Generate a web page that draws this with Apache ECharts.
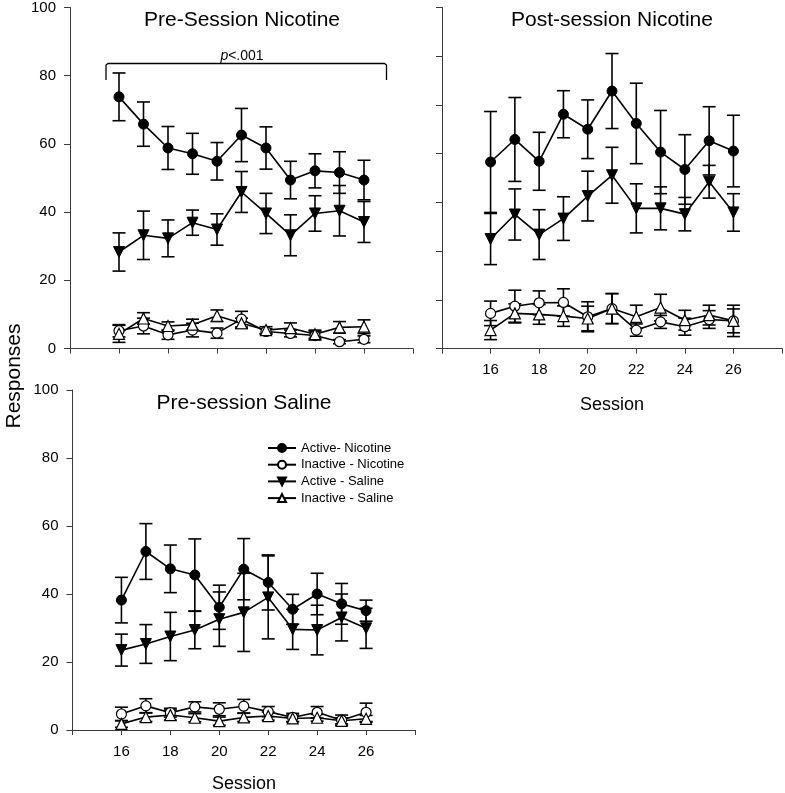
<!DOCTYPE html>
<html>
<head>
<meta charset="utf-8">
<script src="https://cdn.jsdelivr.net/npm/echarts@6/dist/echarts.min.js"></script>
<style>
html,body{margin:0;padding:0;background:#fff;}
#chart{width:785px;height:793px;}
</style>
</head>
<body>
<div id="chart"></div>
<script>
const sessions = [16, 17, 18, 19, 20, 21, 22, 23, 24, 25, 26];
const xTickLabels = [16, 18, 20, 22, 24, 26];
const seriesNames = ['Active- Nicotine', 'Inactive - Nicotine', 'Active - Saline', 'Inactive - Saline'];
const panelTitles = ['Pre-Session Nicotine', 'Post-session Nicotine', 'Pre-session Saline'];

// Panel 1: Pre-Session Nicotine
const activeNic1 = [73.8, 65.8, 58.8, 57.1, 54.9, 62.6, 58.8, 49.4, 52.1, 51.6, 49.4];
const activeNic1SE = [7.0, 6.5, 6.3, 6.0, 5.5, 7.8, 6.2, 5.5, 5.0, 6.1, 5.8];
const inactNic1 = [5.2, 6.6, 4.0, 5.4, 4.5, 8.6, 5.0, 4.4, 3.8, 2.0, 2.7];
const inactNic1SE = [1.8, 2.3, 1.3, 2.0, 1.5, 2.3, 0.8, 1.0, 1.3, 0.6, 1.0];
const activeSal1 = [28.3, 33.2, 32.3, 36.9, 34.9, 45.9, 39.6, 33.2, 39.6, 40.4, 37.1];
const activeSal1SE = [5.6, 7.1, 5.4, 3.7, 4.6, 6.0, 5.9, 6.0, 5.2, 7.4, 6.0];
const inactSal1 = [4.3, 8.8, 6.6, 7.0, 9.6, 7.4, 5.4, 6.0, 4.2, 6.2, 6.4];
const inactSal1SE = [2.5, 1.7, 1.2, 1.6, 1.7, 1.5, 1.0, 1.5, 1.2, 1.7, 2.0];

// Panel 2: Post-session Nicotine
const activeNic2 = [54.7, 61.3, 54.9, 68.7, 64.3, 75.5, 66.0, 57.6, 52.5, 60.9, 57.9];
const activeNic2SE = [14.8, 12.3, 8.5, 6.9, 8.6, 11.0, 11.8, 12.2, 10.2, 10.0, 10.5];
const inactNic2 = [10.3, 12.4, 13.4, 13.5, 9.3, 11.7, 5.4, 7.8, 6.4, 8.5, 8.1];
const inactNic2SE = [3.6, 4.7, 3.5, 4.0, 4.4, 4.4, 1.8, 1.9, 2.5, 2.6, 4.6];
const activeSal2 = [32.1, 39.3, 33.4, 38.1, 44.7, 50.8, 41.1, 41.1, 39.4, 48.9, 39.9];
const activeSal2SE = [7.5, 7.5, 7.3, 6.4, 7.3, 8.2, 7.2, 6.3, 4.9, 4.8, 5.5];
const inactSal2 = [5.4, 10.3, 10.0, 9.5, 8.8, 11.7, 9.3, 12.0, 8.3, 9.8, 8.1];
const inactSal2SE = [2.8, 2.8, 2.9, 3.0, 3.6, 4.4, 3.4, 3.9, 2.9, 2.9, 3.5];

// Panel 3: Pre-session Saline
const activeNic3 = [38.2, 52.5, 47.4, 45.6, 36.1, 47.3, 43.4, 35.5, 40.0, 37.1, 35.1];
const activeNic3SE = [6.7, 8.2, 7.0, 10.6, 6.5, 9.0, 8.1, 4.4, 6.1, 6.0, 3.1];
const inactNic3 = [4.7, 7.1, 5.1, 6.8, 6.1, 7.0, 5.4, 3.7, 5.2, 2.9, 5.2];
const inactNic3SE = [2.0, 2.1, 1.3, 1.5, 1.9, 2.0, 1.5, 1.2, 1.7, 1.5, 2.7];
const activeSal3 = [23.5, 25.3, 27.5, 29.4, 32.6, 34.6, 39.0, 29.6, 29.4, 33.1, 29.9];
const activeSal3SE = [4.7, 5.7, 7.1, 5.5, 8.0, 11.5, 12.2, 5.9, 7.3, 6.9, 5.9];
const inactSal3 = [1.8, 3.8, 4.4, 3.6, 2.6, 3.7, 4.1, 3.4, 3.6, 2.7, 3.3];
const inactSal3SE = [1.0, 1.3, 1.5, 1.2, 1.2, 1.2, 1.2, 1.0, 1.0, 0.9, 1.0];

const panels = [
  [[activeNic1, activeNic1SE], [inactNic1, inactNic1SE], [activeSal1, activeSal1SE], [inactSal1, inactSal1SE]],
  [[activeNic2, activeNic2SE], [inactNic2, inactNic2SE], [activeSal2, activeSal2SE], [inactSal2, inactSal2SE]],
  [[activeNic3, activeNic3SE], [inactNic3, inactNic3SE], [activeSal3, activeSal3SE], [inactSal3, inactSal3SE]]
];

const FONT = "'Liberation Sans', Arial, Helvetica, sans-serif";
const AX = '#3a3a3a';

const markerStyles = [
  {symbol: 'circle', symbolSize: 10, symbolRotate: 0, itemStyle: {color: '#000', borderColor: '#000', borderWidth: 1}},
  {symbol: 'circle', symbolSize: 10, symbolRotate: 0, itemStyle: {color: '#fff', borderColor: '#000', borderWidth: 1.2}},
  {symbol: 'triangle', symbolSize: 11, symbolRotate: 180, itemStyle: {color: '#000', borderColor: '#000', borderWidth: 1}},
  {symbol: 'triangle', symbolSize: 11, symbolRotate: 0, itemStyle: {color: '#fff', borderColor: '#000', borderWidth: 1.2}}
];

const grids = [
  {left: 70, top: 7.5, width: 343, height: 341},
  {left: 442, top: 7.5, width: 341, height: 341},
  {left: 72.5, top: 390, width: 342.5, height: 340}
];

function xAxisFor(i, showLabels) {
  return {
    type: 'value', gridIndex: i, min: 14, max: 28, interval: 2,
    axisLine: {show: true, lineStyle: {color: AX, width: 1}},
    axisTick: {show: true, length: 5, lineStyle: {color: AX}},
    splitLine: {show: false},
    axisLabel: {
      show: showLabels, color: '#000', fontSize: 15, fontFamily: FONT, margin: 14,
      formatter: v => (xTickLabels.indexOf(v) >= 0 ? String(v) : '')
    }
  };
}
function yAxisFor(i, showLabels, interval) {
  return {
    type: 'value', gridIndex: i, min: 0, max: 100, interval: interval,
    axisLine: {show: true, lineStyle: {color: AX, width: 1}},
    axisTick: {show: true, length: 6, lineStyle: {color: AX}},
    splitLine: {show: false},
    axisLabel: {show: showLabels, color: '#000', fontSize: 15, fontFamily: FONT, margin: 14}
  };
}

const series = [];
panels.forEach((panel, p) => {
  panel.forEach((pair, s) => {
    const vals = pair[0], se = pair[1];
    series.push({
      type: 'custom', name: seriesNames[s] + ' SE', xAxisIndex: p, yAxisIndex: p, z: 2,
      silent: true,
      data: sessions.map((x, k) => [x, vals[k] - se[k], vals[k] + se[k]]),
      renderItem: function (params, api) {
        const x = api.value(0);
        const lo = api.coord([x, api.value(1)]);
        const hi = api.coord([x, api.value(2)]);
        const hw = 6.5;
        const st = {stroke: '#000', lineWidth: 1.6};
        return {
          type: 'group',
          children: [
            {type: 'line', shape: {x1: lo[0], y1: lo[1], x2: hi[0], y2: hi[1]}, style: st},
            {type: 'line', shape: {x1: hi[0] - hw, y1: hi[1], x2: hi[0] + hw, y2: hi[1]}, style: st},
            {type: 'line', shape: {x1: lo[0] - hw, y1: lo[1], x2: lo[0] + hw, y2: lo[1]}, style: st}
          ]
        };
      }
    });
  });
  panel.forEach((pair, s) => {
    const m = markerStyles[s];
    series.push({
      type: 'line', name: seriesNames[s], xAxisIndex: p, yAxisIndex: p, z: 3,
      data: sessions.map((x, k) => [x, pair[0][k]]),
      symbol: m.symbol, symbolSize: m.symbolSize, symbolRotate: m.symbolRotate,
      showAllSymbol: true,
      lineStyle: {color: '#000', width: 1.6},
      itemStyle: m.itemStyle,
      emphasis: {disabled: true},
      animation: false
    });
  });
});

const chart = echarts.init(document.getElementById('chart'), null, {renderer: 'canvas'});
chart.setOption({
  backgroundColor: '#fff',
  animation: false,
  grid: grids,
  xAxis: [xAxisFor(0, false), xAxisFor(1, true), xAxisFor(2, true)],
  yAxis: [yAxisFor(0, true, 20), yAxisFor(1, false, 100 / 7), yAxisFor(2, true, 20)],
  legend: {
    data: seriesNames,
    orient: 'vertical', left: 262, top: 436.5,
    itemWidth: 28, itemHeight: 10, itemGap: 3.7,
    textStyle: {color: '#000', fontSize: 13, fontFamily: FONT, lineHeight: 13},
    selectedMode: false
  },
  series: series,
  graphic: [
    {type: 'text', x: 242, y: 20, style: {text: panelTitles[0], fill: '#000', font: '21px ' + FONT, textAlign: 'center', textVerticalAlign: 'middle'}},
    {type: 'text', x: 612, y: 20, style: {text: panelTitles[1], fill: '#000', font: '21px ' + FONT, textAlign: 'center', textVerticalAlign: 'middle'}},
    {type: 'text', x: 244, y: 403, style: {text: panelTitles[2], fill: '#000', font: '21px ' + FONT, textAlign: 'center', textVerticalAlign: 'middle'}},
    {type: 'text', x: 612, y: 405, style: {text: 'Session', fill: '#000', font: '18px ' + FONT, textAlign: 'center', textVerticalAlign: 'middle'}},
    {type: 'text', x: 244, y: 784, style: {text: 'Session', fill: '#000', font: '18px ' + FONT, textAlign: 'center', textVerticalAlign: 'middle'}},
    {type: 'text', x: 14, y: 376, rotation: Math.PI / 2, style: {text: 'Responses', fill: '#000', font: '21px ' + FONT, textAlign: 'center', textVerticalAlign: 'middle'}},
    {type: 'polyline', shape: {points: [[106, 80], [106, 65], [108, 63.5], [384.5, 63.5], [386.5, 65], [386.5, 80]]}, style: {stroke: '#000', lineWidth: 1.3, fill: null}},
    {type: 'text', x: 242, y: 56, style: {
      text: '{i|p}{n|<.001}', fill: '#000', textAlign: 'center', textVerticalAlign: 'middle',
      rich: {
        i: {fontStyle: 'italic', fontSize: 14, fontFamily: FONT, fill: '#000'},
        n: {fontSize: 14, fontFamily: FONT, fill: '#000'}
      }
    }}
  ]
});
</script>
</body>
</html>
